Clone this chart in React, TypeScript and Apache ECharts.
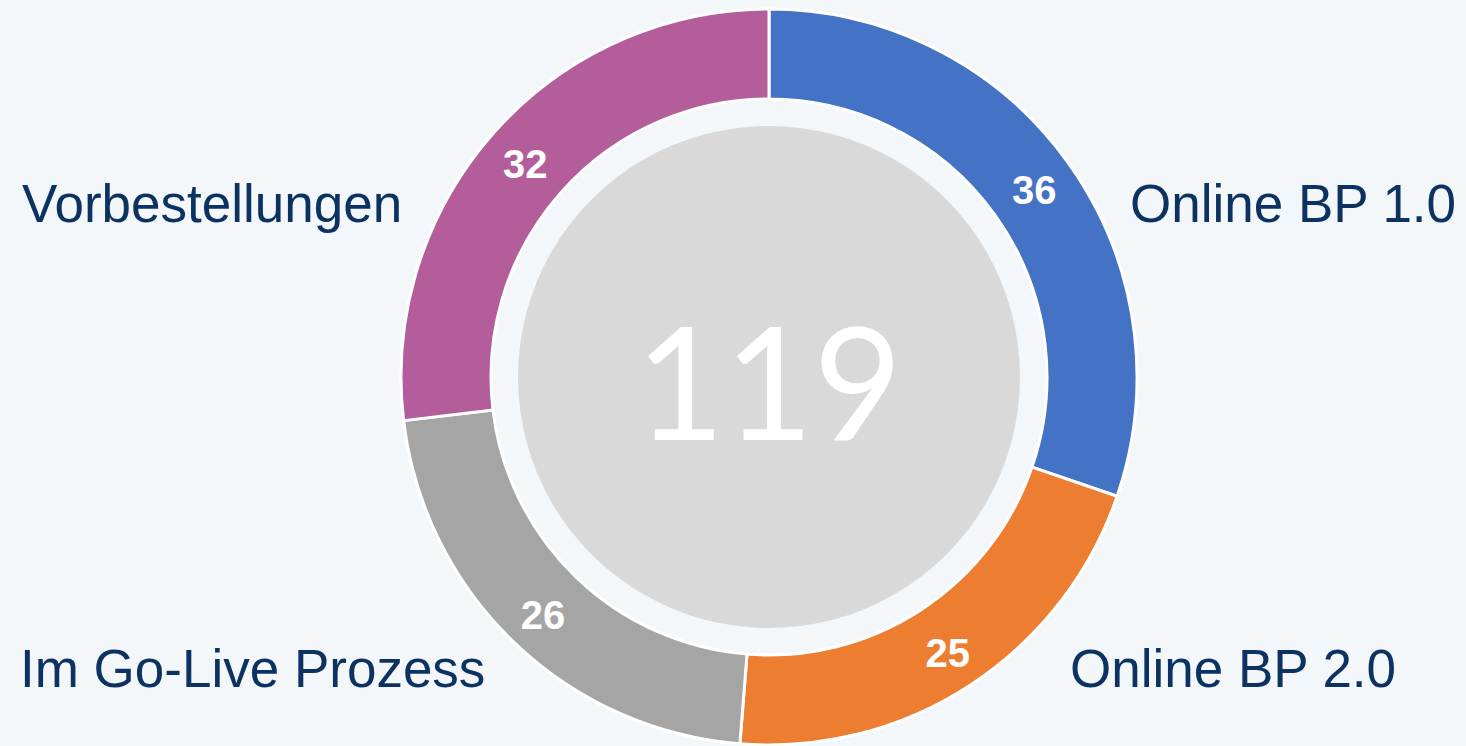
import React, { useEffect, useRef } from "react";
import * as echarts from "echarts";

const categories = ["Online BP 1.0", "Online BP 2.0", "Im Go-Live Prozess", "Vorbestellungen"];
const values = [36, 25, 26, 32];
const colors = ["#4472c4", "#ed7d31", "#a5a5a5", "#b35e9b"];

const labelPlacement = [
  { x: 1130, y: 203, align: "left" },
  { x: 1070, y: 668, align: "left" },
  { x: 20, y: 668, align: "left" },
  { x: 22, y: 203, align: "left" },
];

export default function App() {
  const ref = useRef<HTMLDivElement>(null);
  useEffect(() => {
    document.body.style.margin = "0";
    const chart = echarts.init(ref.current!, null, { renderer: "svg" });
    const total = values.reduce((a, b) => a + b, 0);
    const cx = 769;
    const cy = 377;
    chart.setOption({
      animation: false,
      backgroundColor: "#f3f7fa",
      series: [
        {
          type: "pie",
          center: [cx, cy],
          radius: [278, 368],
          startAngle: 90,
          clockwise: true,
          silent: true,
          itemStyle: { borderColor: "#ffffff", borderWidth: 3 },
          label: {
            show: true,
            position: "inside",
            formatter: "{c}",
            color: "#ffffff",
            fontFamily: "'Liberation Sans', Arial, sans-serif",
            fontWeight: "bold",
            fontSize: 40,
            offset: [0, 3],
          },
          labelLine: { show: false },
          data: categories.map((name, i) => ({
            name,
            value: values[i],
            itemStyle: { color: colors[i] },
          })),
        },
      ],
      graphic: [
        {
          type: "circle",
          shape: { cx, cy, r: 251 },
          style: { fill: "#d9d9d9" },
          silent: true,
          z: 1,
        },
        {
          type: "text",
          x: cx,
          y: cy + 2,
          scaleX: 0.97,
          z: 2,
          style: {
            text: String(total),
            x: 0,
            y: 0,
            fill: "#ffffff",
            fontSize: 158,
            fontFamily: "Lato, 'Open Sans', sans-serif",
            textAlign: "center",
            textVerticalAlign: "middle",
            align: "center",
            verticalAlign: "middle",
          },
        },
        ...categories.map((name, i) => ({
          type: "text",
          x: labelPlacement[i].x,
          y: labelPlacement[i].y,
          z: 2,
          style: {
            text: name,
            x: 0,
            y: 0,
            fill: "#0c3262",
            fontSize: 53,
            fontFamily: "'Liberation Sans', Arial, sans-serif",
            textAlign: labelPlacement[i].align,
            textVerticalAlign: "middle",
            align: labelPlacement[i].align,
            verticalAlign: "middle",
          },
        })),
      ],
    });
    return () => chart.dispose();
  }, []);
  return <div ref={ref} style={{ width: 1466, height: 746 }} />;
}
